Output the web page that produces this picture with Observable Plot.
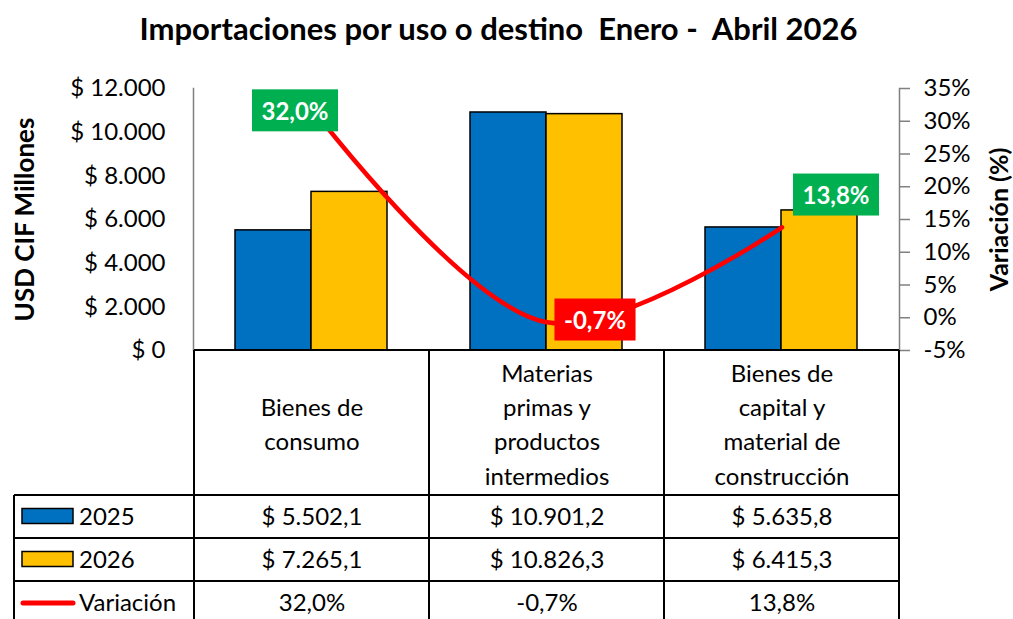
<!DOCTYPE html>
<html><head><meta charset="utf-8">
<script src="https://cdn.jsdelivr.net/npm/d3@7"></script>
<script src="https://cdn.jsdelivr.net/npm/@observablehq/plot@0.6"></script>
<style>
body{margin:0;background:#fff;font-family:Lato,sans-serif}
#wrap{position:relative;width:1013px;height:619px;overflow:hidden;background:#fff}
#title{position:absolute;left:0;top:9px;width:997px;text-align:center;font-weight:bold;font-size:31px;line-height:38px;color:#000;white-space:pre}
#chart{position:absolute;left:0;top:0}
</style></head><body>
<div id="wrap"><div id="chart"></div><div id="title">Importaciones por uso o destino  Enero -  Abril 2026</div></div>
<script>
// ---- data ----
const categories = ["Bienes de consumo", "Materias primas y productos intermedios", "Bienes de capital y material de construcción"];
const categoryLabels = ["Bienes de\nconsumo", "Materias\nprimas y\nproductos\nintermedios", "Bienes de\ncapital y\nmaterial de\nconstrucción"];
const years = ["2025", "2026"];
const values2025 = [5502.1, 10901.2, 5635.8];
const values2026 = [7265.1, 10826.3, 6415.3];
const variation = [32.0, -0.7, 13.8];
const leftTicks = [0, 2000, 4000, 6000, 8000, 10000, 12000];
const rightTicks = [-5, 0, 5, 10, 15, 20, 25, 30, 35];
const seriesNames = ["2025", "2026", "Variación"];
const colors = {"2025": "#0070C0", "2026": "#FFC000", "Variación": "#FF0000"};

// ---- helpers ----
const es = d3.formatLocale({decimal: ",", thousands: ".", grouping: [3], currency: ["$ ", ""], minus: "-"});
const fmtUSD0 = es.format("$,.0f");
const fmtUSD1 = es.format("$,.1f");
const fmtPct = p => es.format(".1f")(p) + "%";
const pctMin = -5, pctMax = 35, usdMax = 12000;
const toLeft = p => (p - pctMin) / (pctMax - pctMin) * usdMax;
const fromLeft = v => Math.round(v / usdMax * (pctMax - pctMin) + pctMin);

const W = 1013, H = 619, L = 193, R = 899, T = 88, B = 350;

const bars = categories.flatMap((c, i) => [
  {cat: c, year: years[0], v: values2025[i]},
  {cat: c, year: years[1], v: values2026[i]}
]);
const lineData = categories.map((c, i) => ({cat: c, p: variation[i], i}));
const labelOffsets = [[-17, 4], [48, -1], [54, -31]];
const rowsTable = [
  {name: seriesNames[0], vals: values2025.map(fmtUSD1)},
  {name: seriesNames[1], vals: values2026.map(fmtUSD1)},
  {name: seriesNames[2], vals: variation.map(fmtPct)}
];
const rowDy = [166.5, 209.5, 253];
const tableText = rowsTable.flatMap((r, j) => categories.map((c, i) => ({cat: c, text: r.vals[i], row: j})));
const headerText = categories.map((c, i) => ({cat: c, text: categoryLabels[i]}));

const plot = Plot.plot({
  width: W, height: H,
  marginLeft: L, marginRight: W - R, marginTop: T, marginBottom: H - B,
  style: {fontFamily: "Lato, sans-serif", fontSize: "24px", color: "#000", background: "white", overflow: "visible"},
  x: {domain: categories, padding: 0, axis: null},
  y: {domain: [0, usdMax], axis: null},
  marks: [
    Plot.frame({anchor: "left", stroke: "#808080", strokeWidth: 1.5}),
    Plot.frame({anchor: "right", stroke: "#808080", strokeWidth: 1.5}),
    Plot.barY(bars.filter(d => d.year === years[0]), {x: "cat", y: "v", fill: colors["2025"], stroke: "#000", strokeWidth: 1.5, insetLeft: 41, insetRight: 118}),
    Plot.barY(bars.filter(d => d.year === years[1]), {x: "cat", y: "v", fill: colors["2026"], stroke: "#000", strokeWidth: 1.5, insetLeft: 117, insetRight: 42}),
    Plot.axisY(leftTicks, {anchor: "left", tickSize: 0, tickPadding: 28, tickFormat: fmtUSD0, fontSize: 24, label: null}),
    Plot.axisY(rightTicks.map(toLeft), {anchor: "right", tickSize: 10, tickPadding: 14, stroke: "#808080", strokeWidth: 1.5, tickFormat: v => fromLeft(v) + "%", fontSize: 24, label: null}),
    Plot.text(["USD CIF Millones"], {frameAnchor: "left", textAnchor: "middle", rotate: -90, dx: -168, fontWeight: "bold", fontSize: 26}),
    Plot.text(["Variación (%)"], {frameAnchor: "right", textAnchor: "middle", rotate: -90, dx: 100, fontWeight: "bold", fontSize: 25}),
    Plot.line(lineData, {x: "cat", y: d => toLeft(d.p), stroke: colors["Variación"], strokeWidth: 4.5, curve: "catmull-rom"}),
    Plot.text(lineData, {x: "cat", y: d => toLeft(d.p), text: d => fmtPct(d.p), fill: "white", fontWeight: "bold", fontSize: 24, className: "vlabel"}),
    // table header labels
    Plot.text(headerText, {x: "cat", y: () => 0, text: "text", dy: 72, lineHeight: 1.42, fontSize: 24, lineAnchor: "middle"}),
    // table values
    ...rowsTable.map((r, j) => Plot.text(tableText.filter(d => d.row === j), {x: "cat", y: () => 0, text: "text", dy: rowDy[j], fontSize: 24, lineAnchor: "middle"}))
  ]
});

document.getElementById("chart").appendChild(plot);

// ---- value label boxes and offsets ----
const svg = d3.select(plot);
svg.selectAll("g.vlabel text").each(function(_, k) {
  const t = d3.select(this);
  const [ox, oy] = labelOffsets[k];
  const tr = t.attr("transform") || "";
  t.attr("transform", `translate(${ox},${oy}) ` + tr);
});
svg.selectAll("g.vlabel text").each(function(_, k) {
  const bb = this.getBBox();
  const m = this.getScreenCTM();
  const inv = plot.getScreenCTM().inverse();
  const p = plot.createSVGPoint();
  p.x = bb.x; p.y = bb.y;
  const p1 = p.matrixTransform(m).matrixTransform(inv);
  const padX = 9.5, h = 42;
  const cy = p1.y + bb.height / 2;
  svg.insert("rect", "g.vlabel")
    .attr("x", p1.x - padX).attr("y", cy - h / 2)
    .attr("width", bb.width + 2 * padX).attr("height", h)
    .attr("fill", variation[k] >= 0 ? "#00B050" : "#FF0000");
});

// ---- table grid and legend ----
const xs = plot.scale("x"), ys = plot.scale("y");
const bw = xs.bandwidth;
const y0 = ys.apply(0);
const rowLines = [0, 145, 188, 231].map(d => y0 + d);
const colEdges = categories.map(c => xs.apply(c)).concat([xs.apply(categories[2]) + bw]);
const legendLeft = 14;
const g = svg.append("g").attr("stroke", "#000").attr("stroke-width", 2);
g.append("line").attr("x1", colEdges[0]).attr("x2", colEdges[3]).attr("y1", rowLines[0]).attr("y2", rowLines[0]);
rowLines.slice(1).forEach(y => g.append("line").attr("x1", legendLeft).attr("x2", colEdges[3]).attr("y1", y).attr("y2", y));
colEdges.forEach(x => g.append("line").attr("x1", x).attr("x2", x).attr("y1", rowLines[0]).attr("y2", H + 5));
g.append("line").attr("x1", legendLeft).attr("x2", legendLeft).attr("y1", rowLines[1]).attr("y2", H + 5);

const lg = svg.append("g").attr("font-family", "Lato, sans-serif").attr("font-size", 24).attr("text-anchor", "start");
seriesNames.forEach((name, j) => {
  const cy = y0 + rowDy[j];
  if (j < 2) {
    lg.append("rect").attr("x", 22).attr("y", cy - 8).attr("width", 51).attr("height", 15)
      .attr("fill", colors[name]).attr("stroke", "#000").attr("stroke-width", 1.5);
  } else {
    lg.append("line").attr("x1", 23).attr("x2", 73).attr("y1", cy).attr("y2", cy)
      .attr("stroke", colors[name]).attr("stroke-width", 5).attr("stroke-linecap", "round");
  }
  lg.append("text").attr("x", 79).attr("y", cy).attr("dy", "0.35em").attr("text-anchor", "start").text(name);
});
</script>
</body></html>
